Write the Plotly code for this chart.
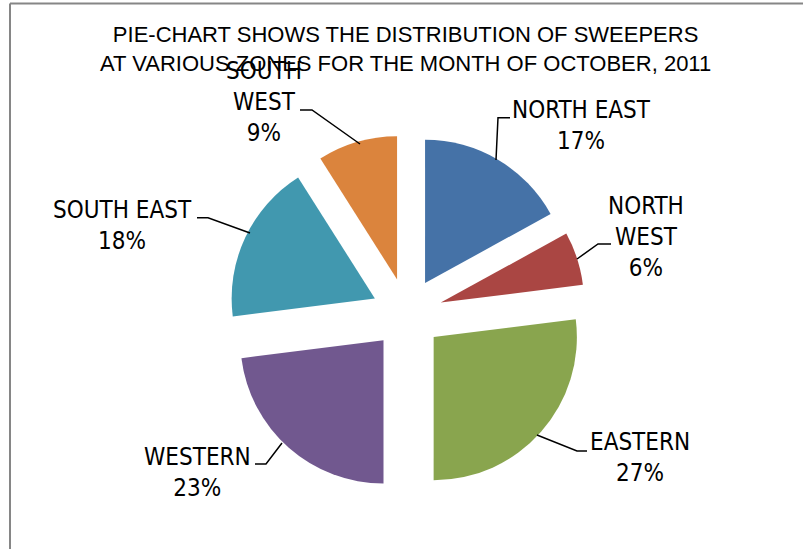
import plotly.graph_objects as go

# ---- data ----
zones = ["NORTH EAST", "NORTH WEST", "EASTERN", "WESTERN", "SOUTH EAST", "SOUTH WEST"]
shares = [17, 6, 27, 23, 18, 9]
label_text = ["NORTH EAST<br>17%", "NORTH<br>WEST<br>6%", "EASTERN<br>27%",
              "WESTERN<br>23%", "SOUTH EAST<br>18%", "SOUTH<br>WEST<br>9%"]
colors = ["#4572A7", "#AA4643", "#89A54E", "#71588F", "#4198AF", "#DB843D"]
title_text = ("PIE-CHART SHOWS THE DISTRIBUTION OF SWEEPERS<br>"
              "AT VARIOUS ZONES FOR THE MONTH OF OCTOBER, 2011")

W, H = 803, 549


def px(x):
    return x / W


def py(y):
    return 1 - y / H


# pie box (pixels): centre (407, 313.6), half-size 178.75
cx, cy, half = 407, 313.6, 178.75

fig = go.Figure(go.Pie(
    labels=zones,
    values=shares,
    sort=False,
    direction="clockwise",
    rotation=0,
    pull=[0.248] * len(zones),
    marker=dict(colors=colors, line=dict(width=0)),
    textinfo="none",
    hoverinfo="label+percent",
    domain=dict(x=[px(cx - half), px(cx + half)], y=[py(cy + half), py(cy - half)]),
))

label_pos = [(581, 125.5), (646, 237), (640, 457), (197, 472), (122.5, 225), (264, 101.5)]
leaders = [
    [(510, 117.7), (498, 117.7), (496, 160)],
    [(611, 244), (598, 244), (577, 259)],
    [(587, 451), (577, 451), (537, 435)],
    [(255, 464), (266, 464), (282, 443)],
    [(197, 217.7), (208, 217.7), (250, 233)],
    [(300, 110), (312, 110), (360, 144)],
]

annotations = []
for txt, (x, y) in zip(label_text, label_pos):
    annotations.append(dict(
        text=txt, x=px(x), y=py(y), xref="paper", yref="paper",
        xanchor="center", yanchor="middle", showarrow=False, align="center",
        font=dict(family="Liberation Sans Narrow, Arial Narrow, DejaVu Sans Condensed",
                  size=24, color="black"),
    ))

# title as a two-line annotation centred at (405, 49)
annotations.append(dict(
    text=title_text, x=px(405), y=py(49), xref="paper", yref="paper",
    xanchor="center", yanchor="middle", showarrow=False, align="center",
    font=dict(family="Liberation Sans, Arial", size=22, color="black"),
))

shapes = []
for pts in leaders:
    path = "M " + " L ".join(f"{px(x):.5f},{py(y):.5f}" for x, y in pts)
    shapes.append(dict(type="path", path=path, xref="paper", yref="paper",
                       line=dict(color="black", width=1.5)))

# chart-area border (top and left edges visible)
shapes.append(dict(type="line", xref="paper", yref="paper",
                   x0=px(10), x1=1.0, y0=py(3.5), y1=py(3.5),
                   line=dict(color="#868686", width=2)))
shapes.append(dict(type="line", xref="paper", yref="paper",
                   x0=px(10), x1=px(10), y0=py(3.5), y1=0,
                   line=dict(color="#868686", width=2)))

fig.update_layout(
    width=W, height=H,
    margin=dict(l=0, r=0, t=0, b=0),
    paper_bgcolor="white",
    plot_bgcolor="white",
    showlegend=False,
    annotations=annotations,
    shapes=shapes,
)

fig.write_html("out.html",
               config={"displayModeBar": False},
               post_script="document.body.style.margin='0';document.body.style.overflow='hidden';")
